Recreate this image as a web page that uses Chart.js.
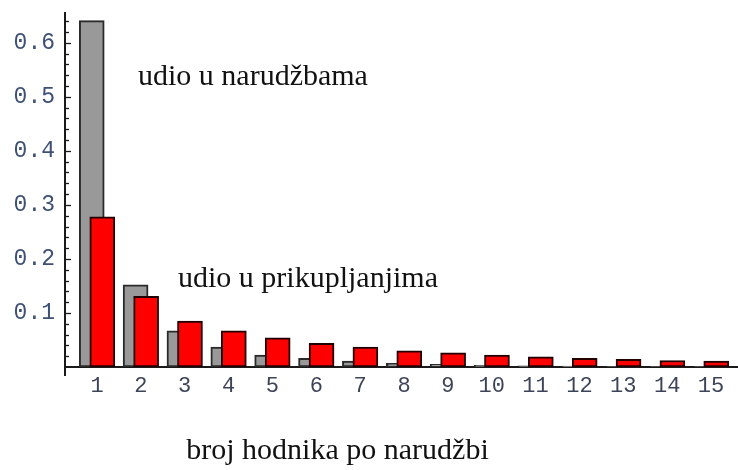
<!DOCTYPE html>
<html>
<head>
<meta charset="utf-8">
<script src="https://cdn.jsdelivr.net/npm/chart.js@4.4.0/dist/chart.umd.min.js"></script>
<style>
  html, body { margin: 0; padding: 0; background: #fff; }
  #wrap { width: 738px; height: 470px; }
</style>
</head>
<body>
<div id="wrap"><canvas id="chart" width="738" height="470"></canvas></div>
<script>
// PODACI
const categories = [1, 2, 3, 4, 5, 6, 7, 8, 9, 10, 11, 12, 13, 14, 15];
const udioNarudzbe = [0.641, 0.152, 0.067, 0.037, 0.022, 0.016, 0.011, 0.007, 0.005, 0.003, 0.002, 0.0015, 0.001, 0.001, 0.0007];
const udioPrikupljanja = [0.278, 0.131, 0.085, 0.067, 0.054, 0.044, 0.037, 0.030, 0.026, 0.022, 0.019, 0.016, 0.014, 0.012, 0.011];
const yTicks = [0.1, 0.2, 0.3, 0.4, 0.5, 0.6];
const labelNarudzbe = 'udio u narudžbama';
const labelPrikupljanja = 'udio u prikupljanjima';
const xTitle = 'broj hodnika po narudžbi';

// pomak stupaca oko kategorije (preklapanje)
const SHIFT = 0.12;

// TEKSTOVI I OSI
const extrasPlugin = {
  id: 'extras',
  afterDraw(chart) {
    const ctx = chart.ctx;
    const x = chart.scales.x, y = chart.scales.y;
    const area = chart.chartArea;
    ctx.save();

    // y os s malim crticama
    ctx.strokeStyle = '#1a1a1a';
    ctx.lineWidth = 2;
    ctx.beginPath();
    ctx.moveTo(area.left - 1, area.top);
    ctx.lineTo(area.left - 1, area.bottom + 9);
    ctx.stroke();
    ctx.lineWidth = 1.3;
    for (let i = 1; i <= 32; i++) {
      const v = i * 0.02;
      const py = Math.round(y.getPixelForValue(v)) + 0.5;
      const len = (i % 5 === 0) ? 5 : 3;
      ctx.beginPath();
      ctx.moveTo(area.left - 1, py);
      ctx.lineTo(area.left + len, py);
      ctx.stroke();
    }

    // natpisi
    ctx.fillStyle = '#111111';
    ctx.font = '30px "Liberation Serif", serif';
    ctx.textBaseline = 'alphabetic';
    ctx.textAlign = 'left';
    ctx.fillText(labelNarudzbe, x.getPixelForValue(1.935), y.getPixelForValue(0.522));
    ctx.fillText(labelPrikupljanja, x.getPixelForValue(2.847), y.getPixelForValue(0.148));
    ctx.textAlign = 'center';
    ctx.fillText(xTitle, 337.5, 459);
    ctx.restore();
  }
};

const ctx = document.getElementById('chart');
new Chart(ctx, {
  type: 'bar',
  data: {
    datasets: [
      {
        label: labelPrikupljanja,
        data: categories.map((c, i) => ({ x: c + SHIFT, y: udioPrikupljanja[i] })),
        backgroundColor: '#ff0000',
        borderColor: '#220000',
        borderWidth: 2,
        borderSkipped: false,
        barThickness: 25,
        grouped: false,
        order: 0
      },
      {
        label: labelNarudzbe,
        data: categories.map((c, i) => ({ x: c - SHIFT, y: udioNarudzbe[i] })),
        backgroundColor: '#999999',
        borderColor: '#2a2a2a',
        borderWidth: 2,
        borderSkipped: false,
        barThickness: 25,
        grouped: false,
        order: 1
      }
    ]
  },
  options: {
    responsive: false,
    animation: false,
    layout: { padding: { top: 12, left: 0, right: 0, bottom: 0 } },
    plugins: {
      legend: { display: false },
      tooltip: { enabled: false }
    },
    scales: {
      x: {
        type: 'linear',
        offset: false,
        min: 0.293,
        max: 15.616,
        afterBuildTicks: s => { s.ticks = categories.map(v => ({ value: v })); },
        afterFit: s => { s.height = 103; s.paddingLeft = 0; s.paddingRight = 0; },
        grid: { display: false, drawTicks: false },
        border: { display: true, color: '#1a1a1a', width: 2 },
        ticks: {
          padding: 6,
          color: '#3e4458',
          font: { family: '"Liberation Mono", monospace', size: 22 },
          maxRotation: 0,
          autoSkip: false
        }
      },
      y: {
        min: 0,
        max: 0.657,
        afterBuildTicks: s => { s.ticks = yTicks.map(v => ({ value: v })); },
        afterFit: s => { s.width = 66; s.paddingTop = 0; s.paddingBottom = 0; },
        grid: { display: false, drawTicks: false },
        border: { display: false },
        ticks: {
          padding: 11,
          color: '#3d5075',
          font: { family: '"Liberation Mono", monospace', size: 23 },
          callback: v => v.toFixed(1)
        }
      }
    }
  },
  plugins: [extrasPlugin]
});
</script>
</body>
</html>
